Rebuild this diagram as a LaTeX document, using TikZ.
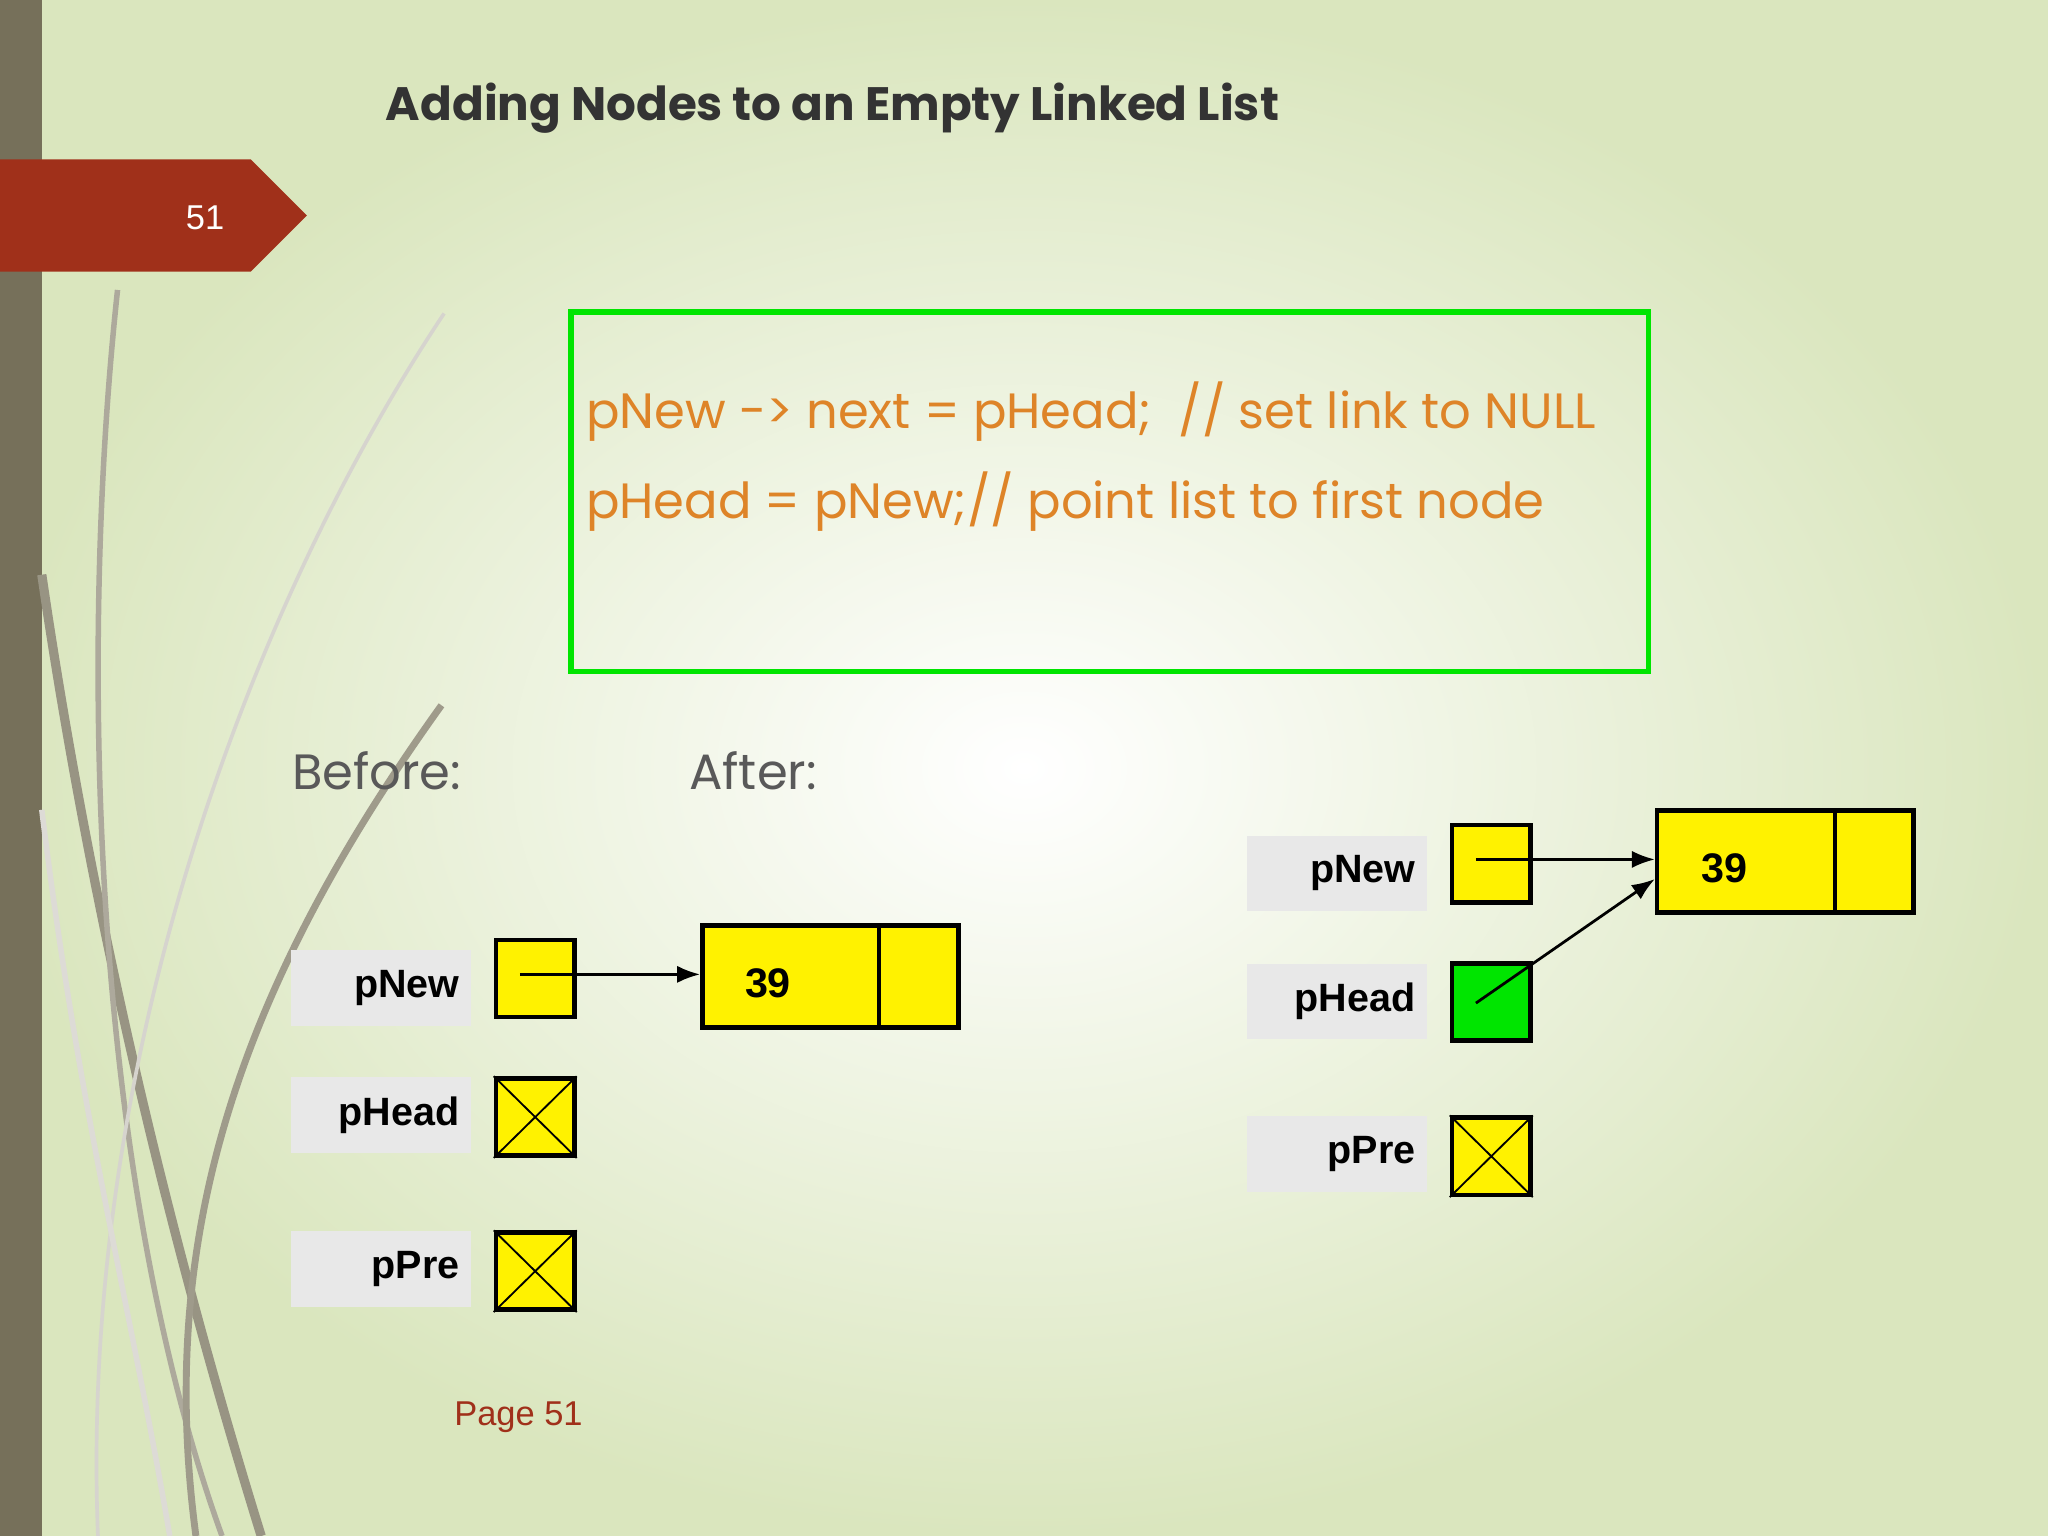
\documentclass[tikz,border=0pt]{standalone}
\usepackage{fontspec}
\setmainfont{Liberation Sans}
\newfontfamily\geo{Poppins}
\usetikzlibrary{arrows.meta}
\definecolor{olive}{RGB}{118,112,90}
\definecolor{tabred}{RGB}{160,48,26}
\definecolor{codeor}{RGB}{222,132,40}
\definecolor{lblgray}{RGB}{232,232,232}
\definecolor{bgout}{RGB}{218,230,190}
\begin{document}
\begin{tikzpicture}[x=0.01cm,y=-0.01cm,
  lbl/.style={fill=lblgray,minimum width=1.38cm,minimum height=0.58cm,inner sep=0,font=\bfseries\fontsize{8.6}{10}\selectfont,text width=1.20cm,align=right,anchor=north west},
  ptr/.style={draw,line width=1pt,minimum width=0.6cm,minimum height=0.59cm,inner sep=0,anchor=north west},
  lnode/.style={draw,line width=1pt,fill=yellow,minimum width=1.96cm,minimum height=0.78cm,inner sep=0,anchor=north west},
  arr/.style={-{Latex[length=5pt]},line width=0.6pt}]
\useasboundingbox (0,0) rectangle (1568,1176);
\shade[inner color=white,outer color=bgout] (0,0) rectangle (1568,1176);
\fill[olive] (0,0) rectangle (32,1176);
% grass
\draw[olive!75,line width=2pt] (32,440) .. controls (70,700) and (130,950) .. (200,1176);
\draw[olive!60,line width=1.2pt] (90,222) .. controls (60,500) and (70,900) .. (170,1176);
\draw[olive!30,line width=0.8pt] (340,240) .. controls (200,450) and (60,800) .. (75,1176);
\draw[olive!70,line width=1.5pt] (338,540) .. controls (180,760) and (120,950) .. (150,1176);
\draw[olive!25,line width=1.2pt] (32,620) .. controls (60,850) and (100,1000) .. (130,1176);
% tab
\fill[tabred] (0,122) -- (192,122) -- (235,165) -- (192,208) -- (0,208) -- cycle;
\node[text=white,font=\fontsize{7.5}{9}\selectfont] (num) at (157,167) {51};
\node[anchor=west,text=black!80,font=\geo\bfseries\fontsize{10.2}{12}\selectfont] (title) at (283,83) {Adding Nodes to an Empty Linked List};
% code box
\draw[green!90!black,line width=1.2pt] (437,239) rectangle (1262,514);
\node[anchor=west,text=codeor,font=\geo\fontsize{10.8}{13}\selectfont,inner sep=0] (c1) at (448,315) {pNew -> next = pHead;\ \ // set link to NULL};
\node[anchor=west,text=codeor,font=\geo\fontsize{10.8}{13}\selectfont,inner sep=0] (c2) at (448,384) {pHead = pNew;// point list to first node};
\node[anchor=west,text=black!65,font=\geo\fontsize{10.8}{13}\selectfont,inner sep=0] (before) at (223,590) {Before:};
\node[anchor=west,text=black!65,font=\geo\fontsize{10.8}{13}\selectfont,inner sep=0] (after) at (527,590) {After:};
% before
\node[lbl] (l1) at (222,727) {pNew};
\node[lbl] (l2) at (222,824) {pHead};
\node[lbl] (l3) at (222,942) {pPre};
\node[ptr,fill=yellow] (p1) at (378,718) {};
\node[ptr,fill=yellow] (p2) at (378,824) {};
\draw (p2.north west) -- (p2.south east) (p2.north east) -- (p2.south west);
\node[ptr,fill=yellow] (p3) at (378,942) {};
\draw (p3.north west) -- (p3.south east) (p3.north east) -- (p3.south west);
\node[lnode] (n1) at (536,707) {};
\draw[line width=1pt] (673,707) -- (673,785);
\node[font=\bfseries\fontsize{9}{10}\selectfont] (v1) at (588,753) {39};
\coordinate (s1) at (398,746);
\draw[arr] (s1) -- (s1 -| n1.west);
% after
\node[lbl] (r1) at (954,639) {pNew};
\node[lbl] (r2) at (954,737) {pHead};
\node[lbl] (r3) at (954,854) {pPre};
\node[ptr,fill=yellow] (q1) at (1110,630) {};
\node[ptr,fill=green!90!black] (q2) at (1110,736) {};
\node[ptr,fill=yellow] (q3) at (1110,854) {};
\draw (q3.north west) -- (q3.south east) (q3.north east) -- (q3.south west);
\node[lnode] (n2) at (1267,619) {};
\draw[line width=1pt] (1405,619) -- (1405,697);
\node[font=\bfseries\fontsize{9}{10}\selectfont] (v2) at (1320,665) {39};
\coordinate (s2) at (1130,658);
\coordinate (s3) at (1130,768);
\coordinate (t3) at (1267,673);
\draw[arr] (s2) -- (s2 -| n2.west);
\draw[arr] (s3) -- (t3);
\node[text=tabred,font=\fontsize{7.5}{9}\selectfont] (page) at (397,1085) {Page 51};
\end{tikzpicture}
\end{document}
